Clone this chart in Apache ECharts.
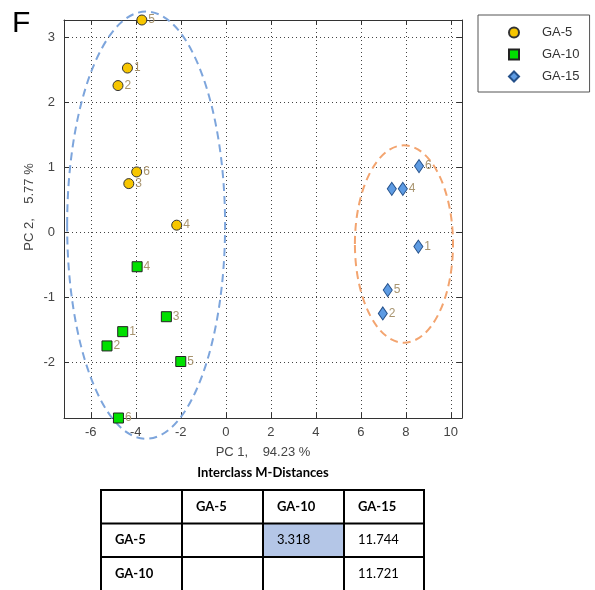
<!DOCTYPE html>
<html>
<head>
<meta charset="utf-8">
<script src="https://cdn.jsdelivr.net/npm/echarts@6/dist/echarts.min.js"></script>
<style>html,body{margin:0;padding:0;background:#fff}#c{width:595px;height:590px}</style>
</head>
<body>
<div id="c"></div>
<script>
// ---- data ----
const seriesNames = ['GA-5', 'GA-10', 'GA-15'];
const ga5Ids = ['1', '2', '3', '4', '5', '6'];
const ga5X = [-4.37, -4.79, -4.31, -2.18, -3.73, -3.96];
const ga5Y = [2.53, 2.26, 0.75, 0.11, 3.27, 0.93];
const ga10Ids = ['1', '2', '3', '4', '5', '6'];
const ga10X = [-4.58, -5.28, -2.64, -3.94, -2.00, -4.77];
const ga10Y = [-1.53, -1.75, -1.30, -0.53, -1.99, -2.86];
const ga15Ids = ['1', '2', '3', '4', '5', '6'];
const ga15X = [8.56, 6.98, 7.38, 7.87, 7.20, 8.59];
const ga15Y = [-0.22, -1.25, 0.67, 0.67, -0.89, 1.02];
// class ellipses: centre x, centre y, semi-axis x, semi-axis y
const ellipseCX = [-3.54, 7.92];
const ellipseCY = [0.11, -0.18];
const ellipseRX = [3.51, 2.18];
const ellipseRY = [3.29, 1.52];
// axis ranges
const xMin = -7.19, xMax = 10.5;
const yMin = -2.86, yMax = 3.27;
// table
const tableTitle = 'Interclass M-Distances';
const tableCols = ['', 'GA-5', 'GA-10', 'GA-15'];
const tableRows = ['GA-5', 'GA-10'];
const tableValues = [['', '3.318', '11.744'], ['', '', '11.721']];

// ---- styles ----
const ellipseColors = ['#7da5dc', '#f3a46f'];
const labelColor = '#a8946f';
const axisFont = 'Liberation Sans, Arial, sans-serif';
const tableFont = 'Lato, Open Sans, sans-serif';

function pts(xs, ys, ids) {
  return xs.map((x, i) => ({ value: [x, ys[i]], name: ids[i] }));
}

const chart = echarts.init(document.getElementById('c'), null, { renderer: 'canvas' });

const intFmt = v => (Math.abs(v - Math.round(v)) < 1e-6 ? String(Math.round(v)) : '');

const axisCommon = {
  axisLine: { show: true, onZero: false, lineStyle: { color: '#333', width: 1 } },
  axisTick: { show: true, inside: true, length: 5, lineStyle: { color: '#333' } },
};

const ga15Data = pts(ga15X, ga15Y, ga15Ids);
ga15Data[2].label = { show: false };

// table graphics
const tLeft = 101, colW = [81, 81, 81, 80], rowH = [33.5, 33.5, 36];
const tTop = 490;
const tableGraphics = [];
const colX = [tLeft];
for (let i = 0; i < colW.length; i++) colX.push(colX[i] + colW[i]);
const rowY = [tTop];
for (let i = 0; i < rowH.length; i++) rowY.push(rowY[i] + rowH[i]);
// highlighted cell
tableGraphics.push({ type: 'rect', shape: { x: colX[2], y: rowY[1], width: colW[2], height: rowH[1] }, style: { fill: '#b4c6e7' } });
colX.forEach(x => tableGraphics.push({ type: 'line', shape: { x1: x, y1: rowY[0], x2: x, y2: rowY[3] }, style: { stroke: '#000', lineWidth: 2 } }));
rowY.forEach(y => tableGraphics.push({ type: 'line', shape: { x1: colX[0] - 1, y1: y, x2: colX[4] + 1, y2: y }, style: { stroke: '#000', lineWidth: 2 } }));
tableCols.forEach((t, j) => {
  if (!t) return;
  tableGraphics.push({ type: 'text', x: colX[j] + 14, y: (rowY[0] + rowY[1]) / 2, style: { text: t, font: 'bold 13px ' + tableFont, fill: '#000', verticalAlign: 'middle', align: 'left' } });
});
tableRows.forEach((r, i) => {
  const cy = rowY[i + 1] + 16.8;
  tableGraphics.push({ type: 'text', x: colX[0] + 14, y: cy, style: { text: r, font: 'bold 13px ' + tableFont, fill: '#000', verticalAlign: 'middle', align: 'left' } });
  tableValues[i].forEach((v, j) => {
    if (!v) return;
    tableGraphics.push({ type: 'text', x: colX[j + 1] + 14, y: cy, style: { text: v, font: '13px ' + tableFont, fill: '#000', verticalAlign: 'middle', align: 'left' } });
  });
});

const pointLabel = { show: true, position: 'right', distance: 1, formatter: '{b}', color: labelColor, fontFamily: axisFont, fontSize: 12 };

const option = {
  animation: false,
  backgroundColor: '#fff',
  grid: { left: 64, top: 20, width: 398, height: 398, containLabel: false },
  legend: {
    orient: 'vertical',
    left: 478, top: 15,
    padding: [11, 10, 9, 30],
    itemWidth: 10, itemHeight: 10, itemGap: 9,
    borderColor: '#555', borderWidth: 1,
    backgroundColor: '#fff',
    textStyle: { fontFamily: axisFont, fontSize: 13, color: '#333', padding: [0, 0, 0, 18] },
    data: seriesNames
  },
  xAxis: [
    Object.assign({
      type: 'value', min: xMin, max: xMax, splitNumber: 9, position: 'bottom',
      name: 'PC 1,    94.23 %', nameLocation: 'middle', nameGap: 28,
      nameTextStyle: { fontFamily: axisFont, fontSize: 13, color: '#444' },
      axisLabel: { formatter: intFmt, margin: 8, fontFamily: axisFont, fontSize: 13, color: '#444' },
      splitLine: { show: true, lineStyle: { color: '#444', type: [1, 3], width: 1 } }
    }, axisCommon),
    Object.assign({
      type: 'value', min: xMin, max: xMax, splitNumber: 9, position: 'top',
      axisLabel: { show: false }, splitLine: { show: false }
    }, axisCommon)
  ],
  yAxis: [
    Object.assign({
      type: 'value', min: yMin, max: yMax, splitNumber: 6, position: 'left',
      axisLabel: { formatter: intFmt, margin: 9, fontFamily: axisFont, fontSize: 13, color: '#444' },
      splitLine: { show: true, lineStyle: { color: '#444', type: [1, 3], width: 1 } }
    }, axisCommon),
    Object.assign({
      type: 'value', min: yMin, max: yMax, splitNumber: 6, position: 'right',
      axisLabel: { show: false }, splitLine: { show: false }
    }, axisCommon)
  ],
  graphic: [
    { type: 'text', left: 12, top: 9, style: { text: 'F', font: '30px ' + axisFont, fill: '#000' } },
    { type: 'text', x: 29.5, y: 207, rotation: Math.PI / 2, style: { text: 'PC 2,    5.77 %', font: '13px ' + axisFont, fill: '#444', align: 'center', verticalAlign: 'middle' } },
    { type: 'text', x: 263, y: 473, style: { text: tableTitle, font: 'bold 13px ' + tableFont, fill: '#000', align: 'center', verticalAlign: 'middle' } },
    { type: 'group', children: tableGraphics }
  ],
  series: [
    {
      type: 'custom', name: 'ellipses', clip: false, silent: true, z: 1,
      data: ellipseCX.map((cx, i) => [cx, ellipseCY[i], ellipseRX[i], ellipseRY[i]]),
      encode: { x: 0, y: 1 },
      renderItem: function (params, api) {
        const c = api.coord([api.value(0), api.value(1)]);
        const s = api.size([api.value(2), api.value(3)]);
        return {
          type: 'ellipse',
          shape: { cx: c[0], cy: c[1], rx: s[0], ry: s[1] },
          style: { fill: 'transparent', stroke: ellipseColors[params.dataIndex], lineWidth: 2, lineDash: [8, 5] }
        };
      }
    },
    {
      type: 'scatter', name: seriesNames[0], symbol: 'circle', symbolSize: 10, z: 3,
      itemStyle: { color: '#f7c600', borderColor: '#333', borderWidth: 1, opacity: 1 },
      label: pointLabel,
      data: pts(ga5X, ga5Y, ga5Ids)
    },
    {
      type: 'scatter', name: seriesNames[1], symbol: 'rect', symbolSize: 10, z: 3,
      itemStyle: { color: '#00e000', borderColor: '#222', borderWidth: 1, opacity: 1 },
      label: pointLabel,
      data: pts(ga10X, ga10Y, ga10Ids)
    },
    {
      type: 'scatter', name: seriesNames[2], symbol: 'diamond', symbolSize: [9, 13], z: 3,
      itemStyle: { color: '#5d9be3', borderColor: '#24508a', borderWidth: 1, opacity: 1 },
      label: pointLabel,
      data: ga15Data
    }
  ]
};
chart.setOption(option);
</script>
</body>
</html>
